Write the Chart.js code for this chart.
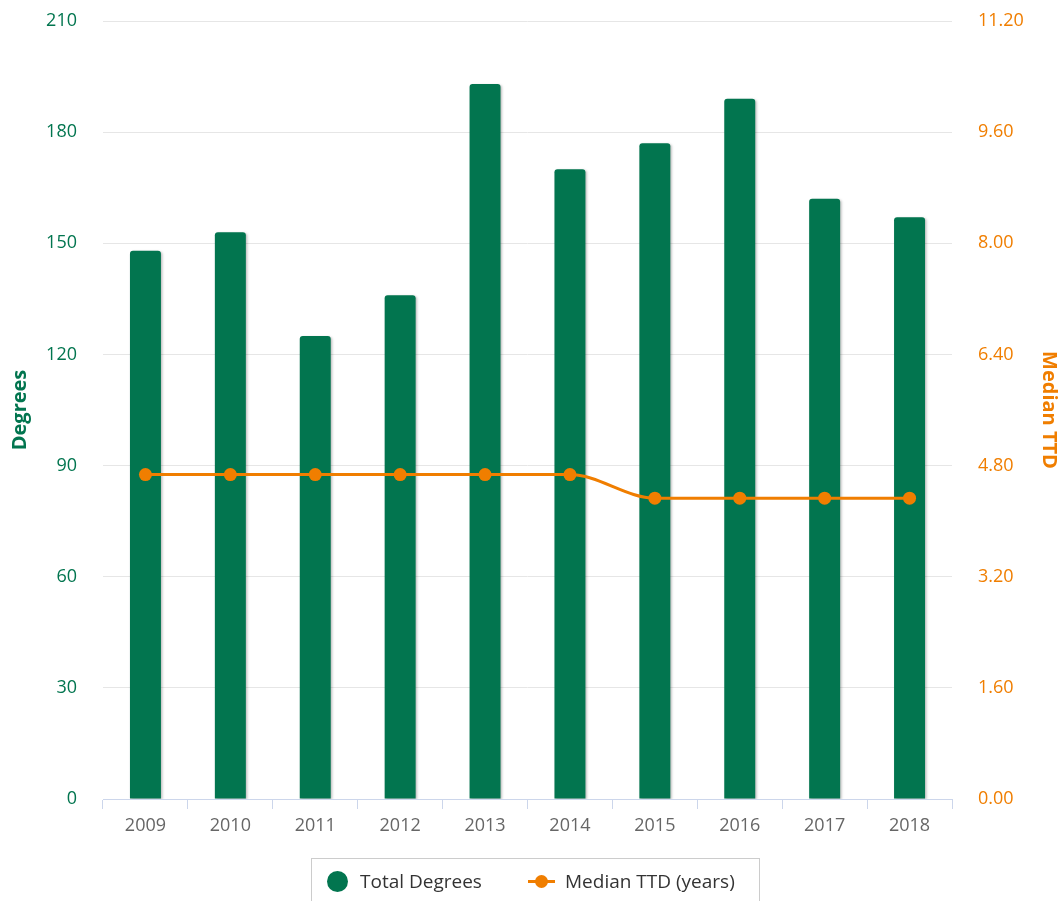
<!DOCTYPE html>
<html>
<head>
<meta charset="utf-8">
<script src="https://cdn.jsdelivr.net/npm/chart.js@4.4.1/dist/chart.umd.min.js"></script>
<style>
html,body{margin:0;padding:0;background:#fff;overflow:hidden;}
#wrap{position:relative;width:1062px;height:901px;overflow:hidden;}
canvas{position:absolute;left:0;top:0;}
.lg{position:absolute;font-family:'Open Sans',sans-serif;font-size:19px;color:#333;line-height:24px;white-space:nowrap;}
#lgbox{position:absolute;left:311px;top:858px;width:449px;height:52px;border:1px solid #cccccc;box-sizing:border-box;}
</style>
</head>
<body>
<div id="wrap">
<canvas id="c" width="1062" height="901"></canvas>
<div id="lgbox"></div>
<div style="position:absolute;left:327px;top:871px;width:21px;height:21px;border-radius:50%;background:#02754f;"></div>
<div class="lg" style="left:360px;top:869px;">Total Degrees</div>
<div style="position:absolute;left:528px;top:880px;width:27px;height:3px;background:#f07e00;"></div>
<div style="position:absolute;left:535px;top:875px;width:13px;height:13px;border-radius:50%;background:#f07e00;"></div>
<div class="lg" style="left:565px;top:869px;">Median TTD (years)</div>
</div>
<script>
const categories = ['2009','2010','2011','2012','2013','2014','2015','2016','2017','2018'];
const totalDegrees = [148,153,125,136,193,170,177,189,162,157];
const medianTTD = [4.67,4.67,4.67,4.67,4.67,4.67,4.33,4.33,4.33,4.33];
const degreeTicks = [0,30,60,90,120,150,180,210];
const ttdTicks = [0,1.6,3.2,4.8,6.4,8.0,9.6,11.2];

const GREEN = '#02754f';
const ORANGE = '#f07e00';

Chart.defaults.font.family = "'Open Sans', sans-serif";

const barShadow = {
  id: 'barShadow',
  beforeDatasetDraw(chart, args) {
    if (args.index === 0) {
      const c = chart.ctx;
      c.save();
      c.shadowColor = 'rgba(0,0,0,0.25)';
      c.shadowOffsetX = 1.5;
      c.shadowOffsetY = 1;
      c.shadowBlur = 2.5;
    }
  },
  afterDatasetDraw(chart, args) {
    if (args.index === 0) chart.ctx.restore();
  }
};

new Chart(document.getElementById('c'), {
  data: {
    labels: categories,
    datasets: [
      {
        type: 'bar',
        label: 'Total Degrees',
        data: totalDegrees,
        backgroundColor: GREEN,
        borderWidth: 0,
        borderRadius: {topLeft: 3, topRight: 3, bottomLeft: 0, bottomRight: 0},
        borderSkipped: 'bottom',
        categoryPercentage: 1,
        barPercentage: 0.365,
        yAxisID: 'y',
        order: 2
      },
      {
        type: 'line',
        label: 'Median TTD (years)',
        data: medianTTD,
        borderColor: ORANGE,
        backgroundColor: ORANGE,
        borderWidth: 3,
        pointRadius: 6.5,
        pointBorderWidth: 0,
        pointBackgroundColor: ORANGE,
        cubicInterpolationMode: 'monotone',
        fill: false,
        yAxisID: 'y1',
        order: 1
      }
    ]
  },
  options: {
    responsive: false,
    devicePixelRatio: 1,
    animation: false,
    layout: {padding: {top: 21, left: 0, right: 0, bottom: 0}},
    plugins: {legend: {display: false}, tooltip: {enabled: false}},
    scales: {
      x: {
        offset: true,
        grid: {display: true, drawOnChartArea: false, drawTicks: true, tickLength: 10, color: '#ccd6eb', offset: true},
        border: {display: true, color: '#ccd6eb', width: 1},
        ticks: {color: '#666666', font: {size: 18}, padding: 6, maxRotation: 0},
        afterFit(s) { s.height = 102; s.paddingLeft = 0; s.paddingRight = 0; }
      },
      y: {
        position: 'left',
        min: 0, max: 210,
        afterBuildTicks(s) { s.ticks = degreeTicks.map(v => ({value: v})); },
        grid: {color: '#e6e6e6', lineWidth: 1, drawTicks: false},
        border: {display: false},
        ticks: {color: GREEN, font: {size: 18}, padding: 26},
        title: {display: true, text: 'Degrees', color: GREEN, font: {size: 20, weight: 'bold'}, padding: {top: 8, bottom: 0}},
        afterFit(s) { s.width = 103; s.paddingTop = 0; s.paddingBottom = 0; }
      },
      y1: {
        position: 'right',
        min: 0, max: 11.2,
        afterBuildTicks(s) { s.ticks = ttdTicks.map(v => ({value: v})); },
        grid: {drawOnChartArea: false, drawTicks: false},
        border: {display: false},
        ticks: {color: ORANGE, font: {size: 18}, padding: 26, callback: v => Number(v).toFixed(2)},
        title: {display: true, text: 'Median TTD', color: ORANGE, font: {size: 20, weight: 'bold'}, padding: {top: 1, bottom: 0}},
        afterFit(s) { s.width = 110; s.paddingTop = 0; s.paddingBottom = 0; }
      }
    }
  },
  plugins: [barShadow]
});
</script>
</body>
</html>
